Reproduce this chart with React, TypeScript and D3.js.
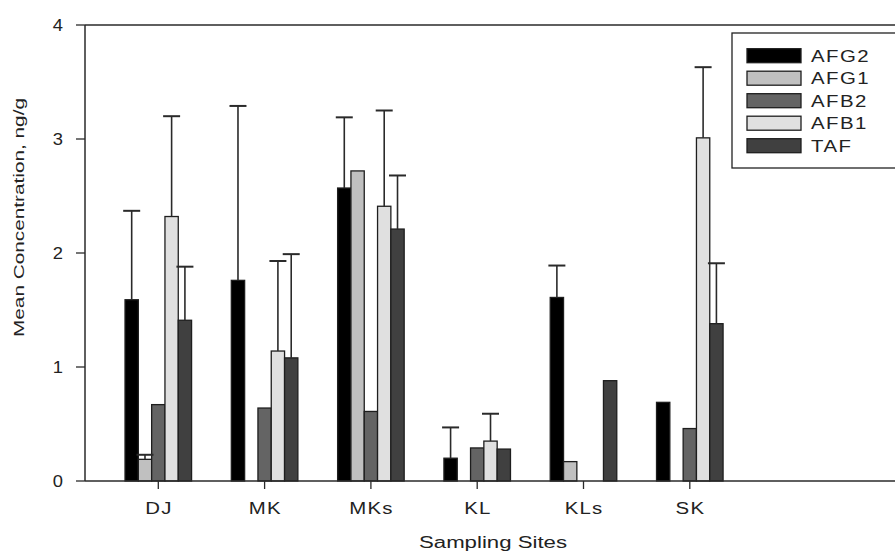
import React from "react";
import * as d3 from "d3";

const categories = ["DJ", "MK", "MKs", "KL", "KLs", "SK"];
const seriesNames = ["AFG2", "AFG1", "AFB2", "AFB1", "TAF"];
const seriesColors = ["#000000", "#c0c0c0", "#646464", "#e0e0e0", "#404040"];

const AFG2 = [1.59, 1.76, 2.57, 0.2, 1.61, 0.69];
const AFG1 = [0.19, 0, 2.72, 0, 0.17, 0];
const AFB2 = [0.67, 0.64, 0.61, 0.29, 0, 0.46];
const AFB1 = [2.32, 1.14, 2.41, 0.35, 0, 3.01];
const TAF = [1.41, 1.08, 2.21, 0.28, 0.88, 1.38];

// upper error (SD); null = none
const AFG2_sd = [0.78, 1.53, 0.62, 0.27, 0.28, null];
const AFG1_sd = [0.04, null, null, null, null, null];
const AFB2_sd = [null, null, null, null, null, null];
const AFB1_sd = [0.88, 0.79, 0.84, 0.24, null, 0.62];
const TAF_sd = [0.47, 0.91, 0.47, null, null, 0.53];

const yTicks = [0, 1, 2, 3, 4];

const seriesValues = [AFG2, AFG1, AFB2, AFB1, TAF];
const seriesSd = [AFG2_sd, AFG1_sd, AFB2_sd, AFB1_sd, TAF_sd];

export default function App() {
  const W = 895;
  const H = 552;
  const left = 85;
  const right = 895;
  const top = 25;
  const bottom = 481;

  const y = d3.scaleLinear().domain([0, 4]).range([bottom, top]);
  const p = 0.374;
  const x0 = d3
    .scaleBand<string>()
    .domain(categories)
    .range([105.15, 742.95])
    .paddingInner(p)
    .paddingOuter(p / 2);
  const x1 = d3
    .scaleBand<string>()
    .domain(seriesNames)
    .range([0, x0.bandwidth()])
    .padding(0);

  const axisColor = "#2a2a2a";
  const font = "Arial, 'Liberation Sans', sans-serif";

  return (
    <svg
      width={W}
      height={H}
      style={{ position: "absolute", left: 0, top: 0, background: "#fff" }}
    >
      <rect x={0} y={0} width={W} height={H} fill="#fff" />
      {/* bars */}
      {categories.map((c, i) => (
        <g key={c} transform={`translate(${x0(c)},0)`}>
          {seriesNames.map((s, j) => {
            const v = seriesValues[j][i];
            if (!v) return null;
            const bx = x1(s)!;
            const bw = x1.bandwidth();
            return (
              <rect
                key={s}
                x={bx}
                y={y(v)}
                width={bw}
                height={y(0) - y(v)}
                fill={seriesColors[j]}
                stroke="#1e1e1e"
                strokeWidth={1.3}
              />
            );
          })}
          {seriesNames.map((s, j) => {
            const v = seriesValues[j][i];
            const sd = seriesSd[j][i];
            if (sd == null || !v) return null;
            const cx = x1(s)! + x1.bandwidth() / 2;
            const yt = y(v + sd);
            return (
              <g key={s + "e"} stroke="#2a2a2a" strokeWidth={1.6}>
                <line x1={cx} x2={cx} y1={y(v)} y2={yt} />
                <line x1={cx - 8.5} x2={cx + 8.5} y1={yt} y2={yt} strokeWidth={2} />
              </g>
            );
          })}
        </g>
      ))}

      {/* frame lines */}
      <line x1={left} x2={right} y1={top} y2={top} stroke={axisColor} strokeWidth={1.5} />
      <line x1={left} x2={right} y1={bottom} y2={bottom} stroke={axisColor} strokeWidth={1.5} />
      <line x1={left} x2={left} y1={top} y2={bottom} stroke={axisColor} strokeWidth={1.5} />

      {/* y ticks */}
      {yTicks.map((t) => (
        <g key={t}>
          <line x1={76} x2={left} y1={y(t)} y2={y(t)} stroke={axisColor} strokeWidth={1.3} />
          <text
            transform={`translate(63,${y(t)}) scale(1.08,1)`}
            textAnchor="end"
            dominantBaseline="central"
            fontFamily={font}
            fontSize={17}
            fill="#222"
          >
            {t}
          </text>
        </g>
      ))}

      {/* x ticks */}
      {categories.map((c) => {
        const cx = x0(c)! + x0.bandwidth() / 2;
        return (
          <g key={c}>
            <line x1={cx} x2={cx} y1={bottom} y2={489} stroke={axisColor} strokeWidth={1.3} />
            <text
              transform={`translate(${cx + 0.6},513.5) scale(1.2,1)`}
              textAnchor="middle"
              fontFamily={font}
              fontSize={17}
              letterSpacing={1}
              fill="#222"
            >
              {c}
            </text>
          </g>
        );
      })}

      {/* axis titles */}
      <text
        x={493}
        y={548}
        textAnchor="middle"
        fontFamily={font}
        fontSize={16}
        textLength={148}
        lengthAdjust="spacingAndGlyphs"
        fill="#222"
      >
        Sampling Sites
      </text>
      <text
        transform="translate(24,217.5) rotate(-90)"
        textAnchor="middle"
        fontFamily={font}
        fontSize={15}
        textLength={239}
        lengthAdjust="spacingAndGlyphs"
        fill="#222"
      >
        Mean Concentration, ng/g
      </text>

      {/* legend */}
      <rect x={732} y={33} width={220} height={135} fill="#fff" stroke="#222" strokeWidth={1.3} />
      {seriesNames.map((s, k) => {
        const cy = 55.7 + k * 22.5;
        return (
          <g key={s}>
            <rect
              x={747}
              y={cy - 7}
              width={54}
              height={14}
              fill={seriesColors[k]}
              stroke="#1e1e1e"
              strokeWidth={1.3}
            />
            <text
              transform={`translate(811,${cy + 6}) scale(1.2,1)`}
              fontFamily={font}
              fontSize={17}
              letterSpacing={1.2}
              fill="#222"
            >
              {s}
            </text>
          </g>
        );
      })}
    </svg>
  );
}
